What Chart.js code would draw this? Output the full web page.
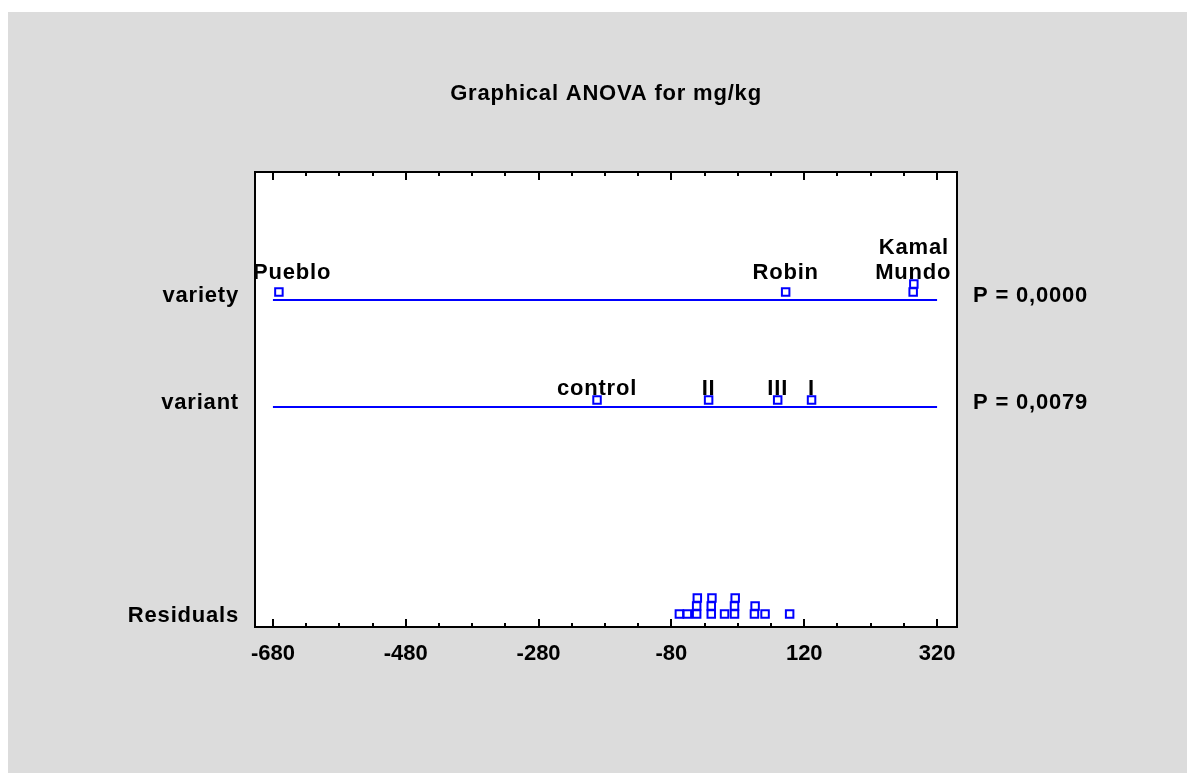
<!DOCTYPE html>
<html>
<head>
<meta charset="utf-8">
<script src="https://cdn.jsdelivr.net/npm/chart.js@4.4.1/dist/chart.umd.min.js"></script>
<style>
html, body { margin: 0; padding: 0; background: #ffffff; }
#chart_box { position: absolute; left: 0; top: 0; width: 1187px; height: 773px; }
</style>
</head>
<body>
<div id="chart_box"><canvas id="canvas" width="1187" height="773"></canvas></div>
<script>
//-------------------
// DATA
//-------------------
var chartTitle = "Graphical ANOVA for mg/kg";
var rowNames = ["variety", "variant", "Residuals"];
var pValues = ["P = 0,0000", "P = 0,0079"];

var varietyNames = ["Pueblo", "Robin", "Mundo", "Kamal"];
var varietyEffects = [-671, 92, 284, 285];

var variantNames = ["control", "II", "III", "I"];
var variantEffects = [-192, -24, 80, 131];

var residuals = [-68, -56, -42, -42, -41, -20, -20, -19, 0, 15, 15, 16, 45, 46, 61, 98];

var xTicks = [-680, -480, -280, -80, 120, 320];
var xMinorStep = 50;

//-------------------
// layout / style
//-------------------
var canvasWidth = 1187;
var canvasHeight = 773;
var blue = "#0000ff";
var greyBg = "#dcdcdc";
var fontFamily = "'Liberation Sans', Arial, sans-serif";
var rowLine = { variety: 327, variant: 220, residuals: 13 };   // y units (px above plot bottom)
var stackStep = 8;

// stack level: points close to an earlier one are piled up
function stackLevels(values) {
    var levels = [];
    for (var i = 0; i < values.length; i++) {
        var lvl = 0;
        for (var j = 0; j < i; j++) {
            if (Math.abs(values[j] - values[i]) < 6) lvl++;
        }
        levels.push(lvl);
    }
    return levels;
}

var varietyLevels = stackLevels(varietyEffects);
var variantLevels = stackLevels(variantEffects);
var residualLevels = stackLevels(residuals);

function pointsFor(values, levels, base) {
    return values.map(function (v, i) {
        return { x: v, y: base + levels[i] * stackStep };
    });
}

function lineFor(base) {
    return [{ x: xTicks[0], y: base }, { x: xTicks[xTicks.length - 1], y: base }];
}

var squareStyle = {
    showLine: false,
    pointStyle: "rect",
    pointRadius: 5.3,
    pointHoverRadius: 5.3,
    borderColor: blue,
    backgroundColor: "#ffffff",
    pointBorderWidth: 2,
    order: 1
};

var lineStyle = {
    showLine: true,
    pointRadius: 0,
    borderColor: blue,
    borderWidth: 2,
    order: 2
};

// Draw everything around the plot
var anovaPlugin = {
    id: "anova",
    beforeDraw: function (chart) {
        var ctx = chart.ctx;
        var a = chart.chartArea;
        ctx.save();
        ctx.fillStyle = "#ffffff";
        ctx.fillRect(0, 0, canvasWidth, canvasHeight);
        ctx.fillStyle = greyBg;
        ctx.fillRect(8, 12, canvasWidth - 8, canvasHeight - 12);
        ctx.fillStyle = "#ffffff";
        ctx.fillRect(a.left, a.top, a.right - a.left, a.bottom - a.top);
        ctx.restore();
    },
    afterDatasetsDraw: function (chart) {
        var ctx = chart.ctx;
        var a = chart.chartArea;
        var xs = chart.scales.x;
        var ys = chart.scales.y;
        ctx.save();

        // frame
        ctx.strokeStyle = "#000000";
        ctx.lineWidth = 2;
        ctx.strokeRect(a.left, a.top, a.right - a.left, a.bottom - a.top);

        // ticks top and bottom
        ctx.lineWidth = 2;
        for (var v = xTicks[0]; v <= xTicks[xTicks.length - 1]; v += xMinorStep) {
            var px = Math.round(xs.getPixelForValue(v));
            var major = xTicks.indexOf(v) >= 0;
            var len = major ? 8 : 4;
            ctx.beginPath();
            ctx.moveTo(px, a.bottom);
            ctx.lineTo(px, a.bottom - len);
            ctx.moveTo(px, a.top);
            ctx.lineTo(px, a.top + len);
            ctx.stroke();
        }

        ctx.fillStyle = "#000000";
        ctx.textBaseline = "alphabetic";

        // tick labels
        ctx.font = "bold 22px " + fontFamily;
        ctx.letterSpacing = "0px";
        ctx.textAlign = "center";
        xTicks.forEach(function (t) {
            ctx.fillText(String(t), xs.getPixelForValue(t), a.bottom + 33);
        });

        ctx.letterSpacing = "0.8px";

        // title
        ctx.textAlign = "center";
        ctx.fillText(chartTitle, (a.left + a.right) / 2, 100);

        // row names and p values
        var rowYs = [ys.getPixelForValue(rowLine.variety) + 2,
                     ys.getPixelForValue(rowLine.variant) + 2,
                     ys.getPixelForValue(rowLine.residuals) + 8];
        ctx.textAlign = "right";
        rowNames.forEach(function (n, i) {
            ctx.fillText(n, a.left - 16, rowYs[i]);
        });
        ctx.textAlign = "left";
        pValues.forEach(function (p, i) {
            ctx.fillText(p, a.right + 16, rowYs[i]);
        });

        // level labels above the squares
        function drawLabels(names, values, levels, base, lift) {
            names.forEach(function (n, i) {
                var w = ctx.measureText(n).width;
                var cx = xs.getPixelForValue(values[i]);
                var left = cx - w / 2;
                if (left < a.left - 2) left = a.left - 2;
                if (left + w > a.right - 1) left = a.right - 1 - w;
                var y = ys.getPixelForValue(base) - lift - levels[i] * 25;
                ctx.textAlign = "left";
                ctx.fillText(n, left, y);
            });
        }
        drawLabels(varietyNames, varietyEffects, varietyLevels, rowLine.variety, 21);
        drawLabels(variantNames, variantEffects, variantLevels, rowLine.variant, 12);

        ctx.restore();
    }
};

var canvas = document.getElementById("canvas");
var ctx = canvas.getContext("2d");

var chart = new Chart(ctx, {
    type: "scatter",
    data: {
        datasets: [
            Object.assign({ label: "variety", data: pointsFor(varietyEffects, varietyLevels, rowLine.variety + 8) }, squareStyle),
            Object.assign({ label: "variant", data: pointsFor(variantEffects, variantLevels, rowLine.variant + 7) }, squareStyle),
            Object.assign({ label: "Residuals", data: pointsFor(residuals, residualLevels, rowLine.residuals) }, squareStyle),
            Object.assign({ label: "variety line", data: lineFor(rowLine.variety) }, lineStyle),
            Object.assign({ label: "variant line", data: lineFor(rowLine.variant) }, lineStyle)
        ]
    },
    options: {
        responsive: false,
        animation: false,
        layout: {
            padding: { left: 255, right: canvasWidth - 957, top: 172, bottom: canvasHeight - 627 }
        },
        scales: {
            x: { type: "linear", min: -707, max: 350, display: false },
            y: { type: "linear", min: 0, max: 455, display: false }
        },
        plugins: {
            legend: { display: false },
            tooltip: { enabled: false },
            title: { display: false }
        }
    },
    plugins: [anovaPlugin]
});
</script>
</body>
</html>
